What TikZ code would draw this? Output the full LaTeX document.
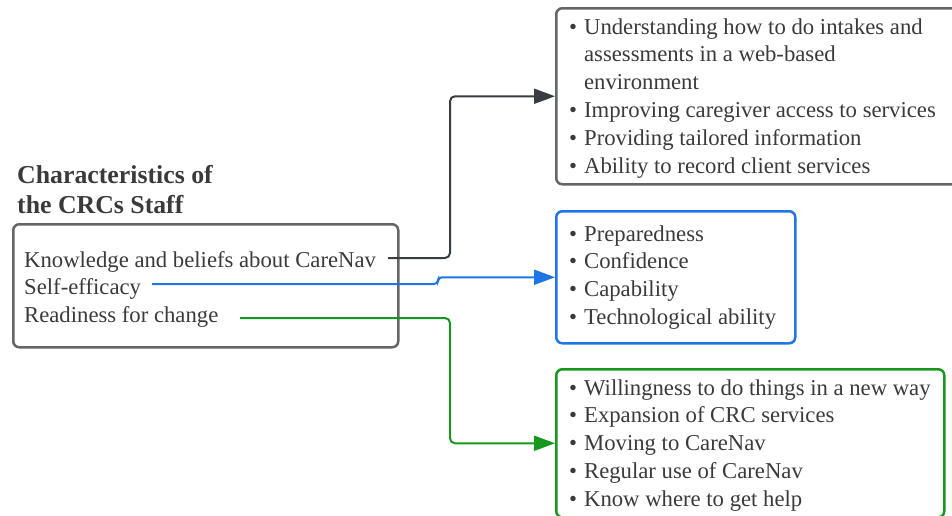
\documentclass[tikz,border=0pt]{standalone}
\usepackage{fontspec}
\setmainfont{Liberation Serif}
\usetikzlibrary{arrows.meta}

\definecolor{texto}{HTML}{3A3A3A}
\definecolor{borde}{HTML}{666666}
\definecolor{flecha}{HTML}{393D43}
\definecolor{azul}{HTML}{1F74E6}
\definecolor{verde}{HTML}{18971F}

\begin{document}
\begin{tikzpicture}[x=1pt, y=-1pt,
	caja/.style={draw, line width=2.5pt, rounded corners=6pt, anchor=north west, inner sep=0pt},
	linea/.style={text=texto, inner sep=0pt, anchor=base west, font=\fontsize{22.7}{27.8}\selectfont},
	titulo/.style={linea, font=\fontsize{25.8}{30}\selectfont\bfseries},
	conector/.style={line width=2pt, rounded corners=5pt, -{Triangle[length=21pt, width=15pt]}}]

	% 0. Marco de la imagen
	\useasboundingbox (0,0) rectangle (952,515);

	% 1. Caja izquierda (características del personal)
	\node[titulo] (T) at (17,183) {\begin{tabular}[t]{@{}l@{}}Characteristics of\\the CRCs Staff\end{tabular}};
	\node[caja, borde, minimum width=385pt, minimum height=123pt] (S) at (12,223) {};
	\node[linea] (K) at (24,267) {Knowledge and beliefs about CareNav};
	\node[linea] (E) at (24,294.5) {Self-efficacy};
	\node[linea] (R) at (24,322) {Readiness for change};

	% Extremos libres de los conectores
	\coordinate (k0) at (388,258);
	\coordinate (e0) at (152,284);
	\coordinate (r0) at (240,318);

	% 2. Cajas de la derecha (con listas de viñetas)
	\node[caja, borde, minimum width=410pt, minimum height=176pt] (A) at (555,7) {};
	\node[caja, azul, minimum width=239pt, minimum height=132pt] (B) at (555,210) {};
	\node[caja, verde, minimum width=388pt, minimum height=148pt] (C) at (555,368) {};

	\node[linea] (LA) at (569,34) {\begin{tabular}[t]{@{}l@{\hspace{7pt}}l@{}}
		\textbullet & Understanding how to do intakes and\\
		            & assessments in a web-based\\
		            & environment\\
		\textbullet & Improving caregiver access to services\\
		\textbullet & Providing tailored information\\
		\textbullet & Ability to record client services
	\end{tabular}};
	\node[linea] (LB) at (569,241) {\begin{tabular}[t]{@{}l@{\hspace{7pt}}l@{}}
		\textbullet & Preparedness\\
		\textbullet & Confidence\\
		\textbullet & Capability\\
		\textbullet & Technological ability
	\end{tabular}};
	\node[linea] (LC) at (569,395) {\begin{tabular}[t]{@{}l@{\hspace{7pt}}l@{}}
		\textbullet & Willingness to do things in a new way\\
		\textbullet & Expansion of CRC services\\
		\textbullet & Moving to CareNav\\
		\textbullet & Regular use of CareNav\\
		\textbullet & Know where to get help
	\end{tabular}};

	% 3. Conectores (de cada característica a su caja)
	\draw[conector, flecha] (k0) -| ([xshift=-105pt]A.west) -- (A.west);
	\draw[conector, azul, rounded corners=4pt] (e0) -| ([xshift=-117pt]B.west) -- (B.west);
	\draw[conector, verde] (r0) -| ([xshift=-105pt]C.west) -- (C.west);

\end{tikzpicture}
\end{document}
